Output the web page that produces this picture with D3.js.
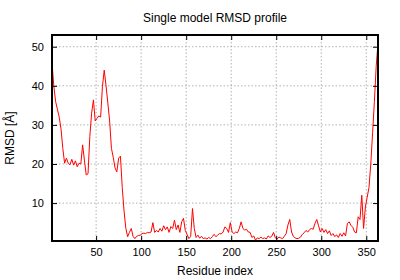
<!DOCTYPE html>
<html>
<head>
<meta charset="utf-8">
<script src="https://cdn.jsdelivr.net/npm/d3@7"></script>
<style>
  body { margin: 0; background: #fff; }
  svg text { font-family: "Liberation Sans", Arial, sans-serif; font-size: 12px; fill: #000; }
</style>
</head>
<body>
<div id="chart"></div>
<script>
// RMSD, one value for every other residue (1, 3, 5 ... 363)
var firstResidue = 1, residueStep = 2;
var rmsd = [
  46, 40, 36, 34, 32, 29, 24, 20.2, 21.5, 20.2, 19.8, 21.2, 19.7, 20.8, 19.3, 20.2, 20, 24.9, 21, 17.2,
  17.5, 27, 33, 36.4, 31, 31.7, 32.3, 32, 39.8, 44, 40, 35.6, 31, 24, 21.7, 19, 18, 21.5, 22, 14,
  8, 3.5, 1.4, 2.5, 3.5, 1.5, 0.9, 1.5, 1.7, 1.8, 2.2, 2.3, 2.2, 2.5, 2.4, 2.6, 5, 2.5, 3, 2.6,
  3.5, 2.8, 4.2, 3.2, 3.9, 2.5, 4, 3.5, 5.6, 3.2, 4.4, 2.5, 5.2, 6.1, 3, 2, 0.9, 1.5, 8.6, 3.5,
  1.2, 1.8, 1, 1.5, 0.9, 1.1, 0.8, 1.2, 0.9, 1.4, 2, 1.4, 1.8, 2.2, 2.1, 2.6, 3.9, 3.5, 2.5, 5,
  2.6, 2.2, 2.6, 2.4, 3.5, 5.2, 3.5, 3.1, 3.3, 2.6, 2.5, 1.2, 1.6, 0.5, 1.1, 0.9, 1.3, 0.9, 1.1, 0.8,
  1.6, 1.2, 1.5, 2.5, 1.1, 0.8, 1.3, 1.1, 0.9, 1.5, 2.2, 4.4, 5.8, 2.6, 1.5, 1.1, 0.9, 1, 1.3, 2,
  2.4, 3, 2.6, 3.2, 3.5, 3.3, 4.8, 5.8, 4.2, 2.6, 3.5, 2.5, 3.2, 2.2, 2.9, 1.7, 2.2, 1.4, 1.9, 1.2,
  2.2, 1.5, 2.4, 1.6, 4.8, 5.2, 4.3, 3.8, 2.6, 2.4, 6.5, 5.8, 12, 3.5, 9, 11.5, 14, 20, 28, 36,
  45, 51
];
var xTicks = [50, 100, 150, 200, 250, 300, 350];
var yTicks = [10, 20, 30, 40, 50];
var title = "Single model RMSD profile";
var xLabel = "Residue index";
var yLabel = "RMSD [Å]";

var data = rmsd.map(function(v, i) {
  return {res: firstResidue + i * residueStep, rmsd: v};
});

var svgWidth = 400, svgHeight = 280;
var margin = {top: 35, right: 22, bottom: 39, left: 52};
var width = svgWidth - margin.left - margin.right;
var height = svgHeight - margin.top - margin.bottom;

var x = d3.scaleLinear().domain([1, 363]).range([0, width]);
var y = d3.scaleLinear().domain([0.3, 53]).range([height, 0]);

var svg = d3.select("#chart").append("svg")
    .attr("width", svgWidth)
    .attr("height", svgHeight);

var g = svg.append("g")
    .attr("transform", "translate(" + margin.left + "," + margin.top + ")");

// dotted grid
g.append("g").selectAll("line").data(xTicks).enter().append("line")
    .attr("x1", function(d) { return x(d); }).attr("x2", function(d) { return x(d); })
    .attr("y1", 0).attr("y2", height)
    .attr("stroke", "#a0a0a0").attr("stroke-width", 0.8).attr("stroke-dasharray", "1.5,2");
g.append("g").selectAll("line").data(yTicks).enter().append("line")
    .attr("y1", function(d) { return y(d); }).attr("y2", function(d) { return y(d); })
    .attr("x1", 0).attr("x2", width)
    .attr("stroke", "#a0a0a0").attr("stroke-width", 0.8).attr("stroke-dasharray", "1.5,2");

// the profile line, clipped to the frame
g.append("clipPath").attr("id", "clip").append("rect")
    .attr("width", width).attr("height", height);

var line = d3.line()
    .x(function(d) { return x(d.res); })
    .y(function(d) { return y(d.rmsd); });

g.append("path")
    .datum(data)
    .attr("clip-path", "url(#clip)")
    .attr("fill", "none")
    .attr("stroke", "#ff0000")
    .attr("stroke-width", 1)
    .attr("d", line);

// axes with inward ticks, mirrored on top and right
var tickLen = 5;
g.append("g")
    .attr("transform", "translate(0," + height + ")")
    .call(d3.axisBottom(x).tickValues(xTicks).tickSize(-tickLen).tickPadding(7))
    .call(function(a) { a.select(".domain").remove(); });
g.append("g")
    .call(d3.axisTop(x).tickValues(xTicks).tickSize(-tickLen).tickFormat(""))
    .call(function(a) { a.select(".domain").remove(); });
g.append("g")
    .call(d3.axisLeft(y).tickValues(yTicks).tickSize(-tickLen).tickPadding(8))
    .call(function(a) { a.select(".domain").remove(); });
g.append("g")
    .attr("transform", "translate(" + width + ",0)")
    .call(d3.axisRight(y).tickValues(yTicks).tickSize(-tickLen).tickFormat(""))
    .call(function(a) { a.select(".domain").remove(); });

g.selectAll(".tick line").attr("stroke", "#000").attr("stroke-width", 1);
g.selectAll(".tick text").style("font-family", "Liberation Sans, Arial, sans-serif").style("font-size", "11px");

// frame
g.append("rect")
    .attr("width", width).attr("height", height)
    .attr("fill", "none").attr("stroke", "#000").attr("stroke-width", 2);

// texts
svg.append("text")
    .attr("x", margin.left + width / 2).attr("y", 22)
    .attr("text-anchor", "middle")
    .text(title);
svg.append("text")
    .attr("x", margin.left + width / 2).attr("y", 275)
    .attr("text-anchor", "middle")
    .text(xLabel);
svg.append("text")
    .attr("transform", "translate(14," + (margin.top + height / 2) + ") rotate(-90)")
    .attr("text-anchor", "middle")
    .text(yLabel);
</script>
</body>
</html>
